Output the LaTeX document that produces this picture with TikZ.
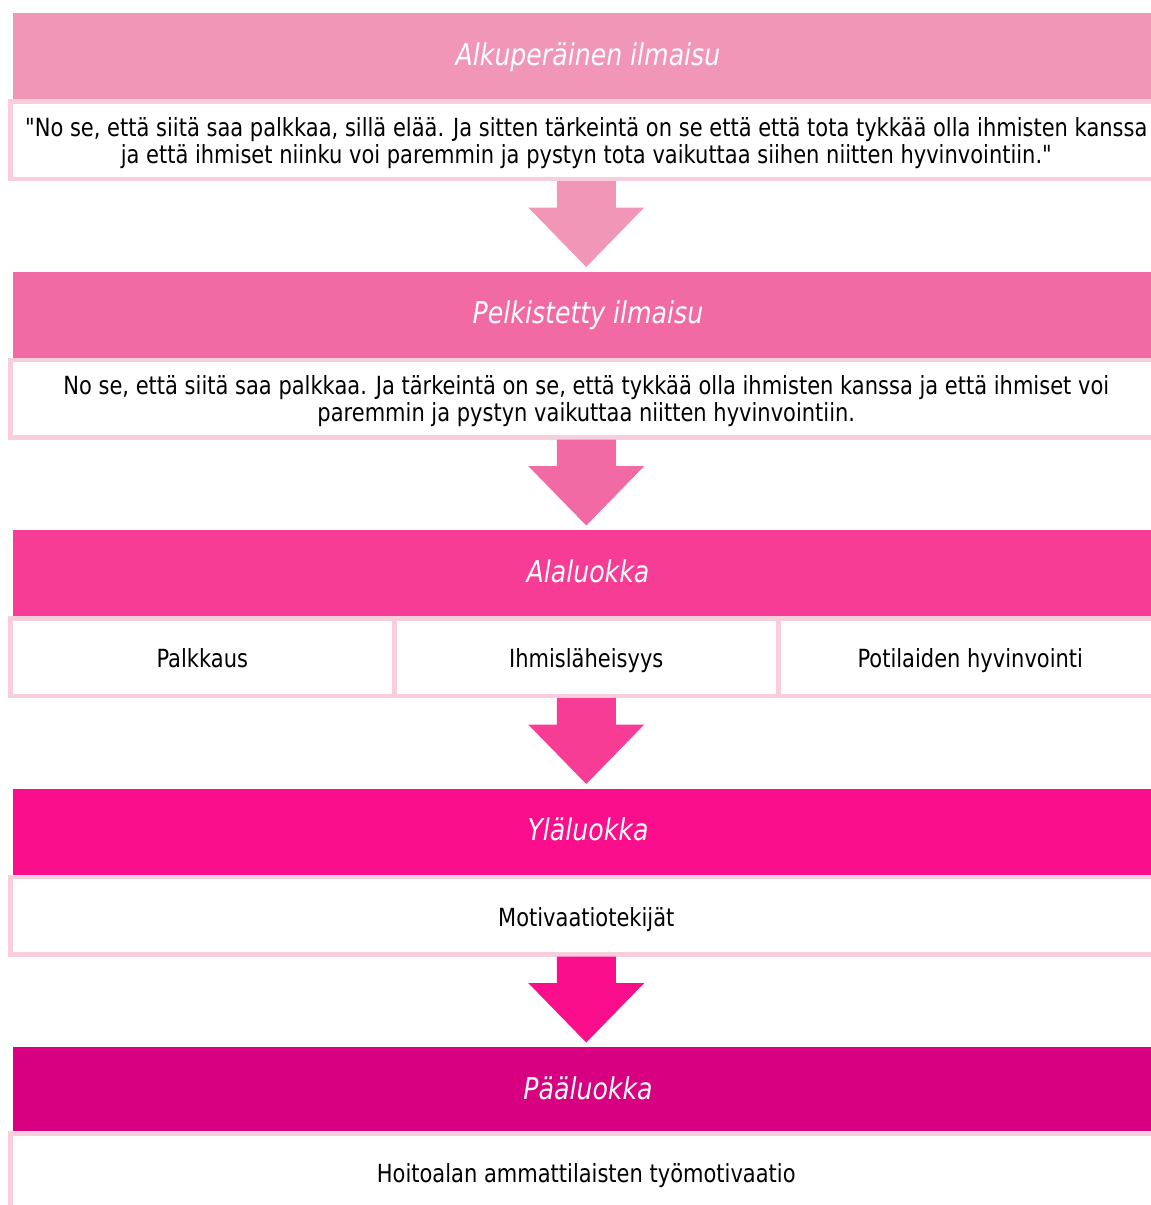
\documentclass[tikz,border=0pt]{standalone}
\usepackage{fontspec}
\setmainfont{DejaVu Sans}[FakeStretch=0.84, Ligatures=TeXOff]
\usetikzlibrary{calc}
\definecolor{hA}{HTML}{F296B7}
\definecolor{hB}{HTML}{F26AA3}
\definecolor{hC}{HTML}{F63C94}
\definecolor{hD}{HTML}{FA0E8C}
\definecolor{hE}{HTML}{D60080}
\definecolor{bd}{HTML}{F9CEDC}
\newcommand{\firststrut}{\rule{0pt}{25pt}}
\begin{document}
\begin{tikzpicture}[x=1pt,y=-1pt,
  hdr/.style={anchor=north west, minimum width=1150pt, minimum height=86pt, inner sep=0pt, outer sep=0pt, text=white, font=\fontsize{30}{36}\selectfont\itshape, text height=22pt, text depth=4pt},
  txtbox/.style={anchor=north west, draw=bd, line width=4.5pt, fill=white, minimum width=1152pt, minimum height=77.5pt, inner sep=0pt, align=center, text=black, font=\fontsize{25}{27}\selectfont},
  onebox/.style={txtbox, text height=24pt, text depth=3pt},
  cellbox/.style={onebox, minimum width=384pt}
]
\useasboundingbox (0,0) rectangle (1151,1205);
\clip (0,0) rectangle (1151,1205);
\fill[white] (0,0) rectangle (1151,1205);

% tier 1
\node[hdr, fill=hA] (h1) at (13,13) {Alkuperäinen ilmaisu};
\node[txtbox] (b1) at (8,99) {\firststrut"No se, että siitä saa palkkaa, sillä elää. Ja sitten tärkeintä on se että että tota tykkää olla ihmisten kanssa\\ja että ihmiset niinku voi paremmin ja pystyn tota vaikuttaa siihen niitten hyvinvointiin."};
% tier 2
\node[hdr, fill=hB] (h2) at (13,271.5) {Pelkistetty ilmaisu};
\node[txtbox] (b2) at (8,357.5) {\firststrut No se, että siitä saa palkkaa. Ja tärkeintä on se, että tykkää olla ihmisten kanssa ja että ihmiset voi\\paremmin ja pystyn vaikuttaa niitten hyvinvointiin.};
% tier 3
\node[hdr, fill=hC] (h3) at (13,530) {Alaluokka};
\node[cellbox] (b3a) at (8,616) {Palkkaus};
\node[cellbox] (b3b) at (392,616) {Ihmisläheisyys};
\node[cellbox] (b3c) at (776,616) {Potilaiden hyvinvointi};
% tier 4
\node[hdr, fill=hD] (h4) at (13,788.5) {Yläluokka};
\node[onebox] (b4) at (8,874.5) {Motivaatiotekijät};
% tier 5
\node[hdr, fill=hE] (h5) at (13,1047) {Pääluokka};
\node[onebox] (b5) at (8,1131) {Hoitoalan ammattilaisten työmotivaatio};

% block arrows
\foreach \src/\col in {b1/hA, b2/hB, b3b/hC, b4/hD}{
  \coordinate (t) at (\src.south);
  \fill[\col] ($(t)+(-29.5,0)$) -- ($(t)+(29.5,0)$) -- ($(t)+(29.5,26.5)$) -- ($(t)+(58,26.5)$)
    -- ($(t)+(0,86)$) -- ($(t)+(-58,26.5)$) -- ($(t)+(-29.5,26.5)$) -- cycle;
}
\end{tikzpicture}
\end{document}
